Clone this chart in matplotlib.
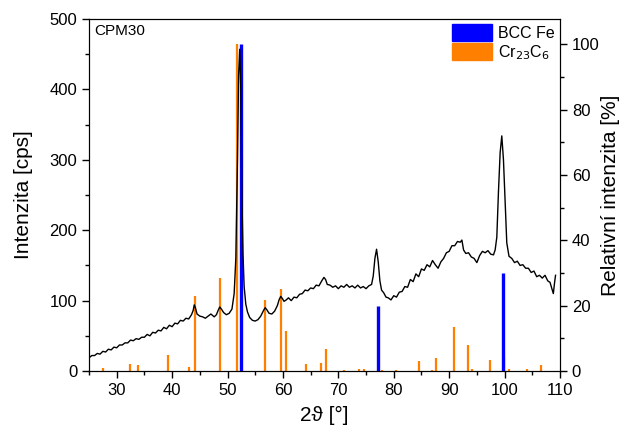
import matplotlib
matplotlib.use('Agg')
import matplotlib.pyplot as plt
import matplotlib.patches as mpatches
from matplotlib.ticker import MultipleLocator

plt.rcParams['font.family'] = ['Liberation Sans', 'DejaVu Sans']

# measured diffractogram (2theta [deg], intensity [cps])
two_theta = [25.2, 25.5, 26.0, 26.5, 27.0, 27.5, 28.0, 28.5, 29.0, 29.5,
             30.0, 30.5, 31.0, 31.5, 32.0, 32.5, 33.0, 33.5, 34.0, 34.5,
             35.0, 35.5, 36.0, 36.5, 37.0, 37.5, 38.0, 38.5, 39.0, 39.5,
             40.0, 40.5, 41.0, 41.5, 42.0, 42.5, 43.0, 43.5, 43.8, 44.0,
             44.2, 44.5, 45.0, 45.5, 46.0, 46.5, 47.0, 47.3, 47.6, 48.0,
             48.3, 48.6, 48.9, 49.3, 49.8, 50.3, 50.8, 51.2, 51.5, 51.8,
             52.0, 52.2, 52.4, 52.6, 52.8, 53.0, 53.3, 53.6, 54.0, 54.5,
             55.0, 55.5, 56.0, 56.5, 56.8, 57.1, 57.5, 58.0, 58.5, 59.0,
             59.3, 59.6, 59.9, 60.2, 60.6, 61.0, 61.5, 62.0, 62.5, 63.0,
             63.5, 64.0, 64.5, 65.0, 65.5, 66.0, 66.5, 67.0, 67.4, 67.7,
             68.0, 68.5, 69.0, 69.5, 70.0, 70.5, 71.0, 71.5, 72.0, 72.5,
             73.0, 73.5, 74.0, 74.5, 75.0, 75.5, 76.0, 76.3, 76.6, 76.9,
             77.2, 77.5, 77.8, 78.2, 78.6, 79.0, 79.5, 80.0, 80.5, 81.0,
             81.5, 82.0, 82.5, 83.0, 83.5, 84.0, 84.5, 85.0, 85.5, 86.0,
             86.5, 87.0, 87.5, 88.0, 88.5, 89.0, 89.5, 90.0, 90.5, 91.0,
             91.5, 92.0, 92.3, 92.6, 93.0, 93.5, 94.0, 94.5, 95.0, 95.5,
             96.0, 96.5, 97.0, 97.5, 98.0, 98.3, 98.6, 98.9, 99.2, 99.5,
             99.8, 100.1, 100.4, 100.8, 101.3, 101.8, 102.3, 102.8, 103.3, 103.8,
             104.3, 104.8, 105.3, 105.8, 106.3, 106.8, 107.3, 107.8, 108.2, 108.5,
             108.8, 109.0, 109.2]
cps = [20, 22, 22, 25, 24, 28, 27, 31, 30, 34,
       33, 37, 37, 40, 40, 44, 43, 46, 45, 48,
       48, 52, 50, 55, 54, 58, 57, 62, 60, 65,
       63, 68, 67, 72, 71, 75, 74, 80, 86, 94,
       90, 81, 78, 77, 75, 78, 81, 79, 77, 80,
       86, 91, 88, 83, 80, 82, 88, 110, 160, 300,
       420, 457, 400, 250, 165, 120, 95, 84, 76, 72,
       71, 73, 78, 86, 90, 87, 82, 81, 85, 93,
       101, 106, 103, 99, 101, 104, 100, 105, 104, 109,
       110, 115, 114, 118, 117, 122, 121, 128, 133, 130,
       123, 122, 119, 121, 117, 121, 119, 123, 119, 121,
       118, 122, 118, 120, 117, 121, 123, 135, 160, 173,
       155, 128, 115, 111, 105, 104, 101, 107, 105, 112,
       113, 120, 119, 130, 127, 138, 134, 145, 143, 151,
       148, 157, 151, 146, 155, 160, 168, 170, 178, 178,
       184, 183, 186, 172, 167, 168, 162, 160, 154, 164,
       170, 168, 171, 166, 165, 172, 190, 255, 310, 334,
       300, 240, 182, 163, 160, 154, 156, 150, 151, 146,
       146, 140, 142, 134, 136, 132, 136, 128, 126, 118,
       110, 124, 136]

# reference patterns (2theta [deg], relative intensity [%])
bcc_pos = [52.4, 77.2, 99.7]
bcc_int = [100, 20, 30]
cr_pos = [27.5, 32.4, 33.8, 39.3, 43.0, 44.1, 48.6, 51.8, 56.8, 59.7,
          60.6, 64.2, 66.8, 67.8, 71.1, 73.7, 74.6, 77.9, 80.4, 84.5,
          86.9, 87.7, 90.9, 93.4, 94.2, 97.4, 99.9, 100.8, 104.0, 106.5]
cr_int = [0.8, 2.3, 1.7, 5.0, 1.1, 22.9, 28.5, 100, 21.7, 25.1,
          12.3, 2.0, 2.6, 6.7, 0.4, 0.6, 0.6, 0.3, 0.4, 3.1,
          0.4, 4.0, 13.5, 8.0, 0.7, 3.5, 4.3, 0.7, 0.7, 1.9]

blue = '#0000ff'
orange = '#ff7f00'

fig = plt.figure(figsize=(6.24, 4.36), dpi=100)
ax = fig.add_axes([0.1426, 0.149, 0.7548, 0.8074])
ax2 = ax.twinx()

ax2.vlines(cr_pos, 0, cr_int, color=orange, linewidth=1.6)
ax2.vlines(bcc_pos, 0, bcc_int, color=blue, linewidth=2.4)
ax.plot(two_theta, cps, color='black', linewidth=1.0, zorder=5)

# put measured curve above sticks
ax.set_zorder(ax2.get_zorder() + 1)
ax.patch.set_visible(False)

ax.set_xlim(25, 110)
ax.set_ylim(0, 500)
ax2.set_ylim(0, 107.7)

ax.xaxis.set_major_locator(MultipleLocator(10))
ax.xaxis.set_minor_locator(MultipleLocator(5))
ax.yaxis.set_major_locator(MultipleLocator(100))
ax.yaxis.set_minor_locator(MultipleLocator(50))
ax2.yaxis.set_major_locator(MultipleLocator(20))
ax2.yaxis.set_minor_locator(MultipleLocator(10))

for a in (ax, ax2):
    a.tick_params(which='major', direction='out', length=5, width=1, labelsize=12)
    a.tick_params(which='minor', direction='out', length=3, width=1)
ax.tick_params(top=False, right=False)

ax.set_xlabel('2ϑ [°]', fontsize=15, labelpad=6)
ax.set_ylabel('Intenzita [cps]', fontsize=15, labelpad=12)
ax2.set_ylabel('Relativní intenzita [%]', fontsize=15, labelpad=1)

ax.text(0.012, 0.985, 'CPM30', transform=ax.transAxes, fontsize=11,
        ha='left', va='top')

handles = [mpatches.Patch(color=blue, label='BCC Fe'),
           mpatches.Patch(color=orange, label='Cr$_{23}$C$_6$')]
ax2.legend(handles=handles, loc='upper right', frameon=False, fontsize=11.5,
           handlelength=2.5, handleheight=1.3, handletextpad=0.4,
           labelspacing=0.1, borderaxespad=0.1, borderpad=0.2)

fig.savefig('out.png', dpi=100)
